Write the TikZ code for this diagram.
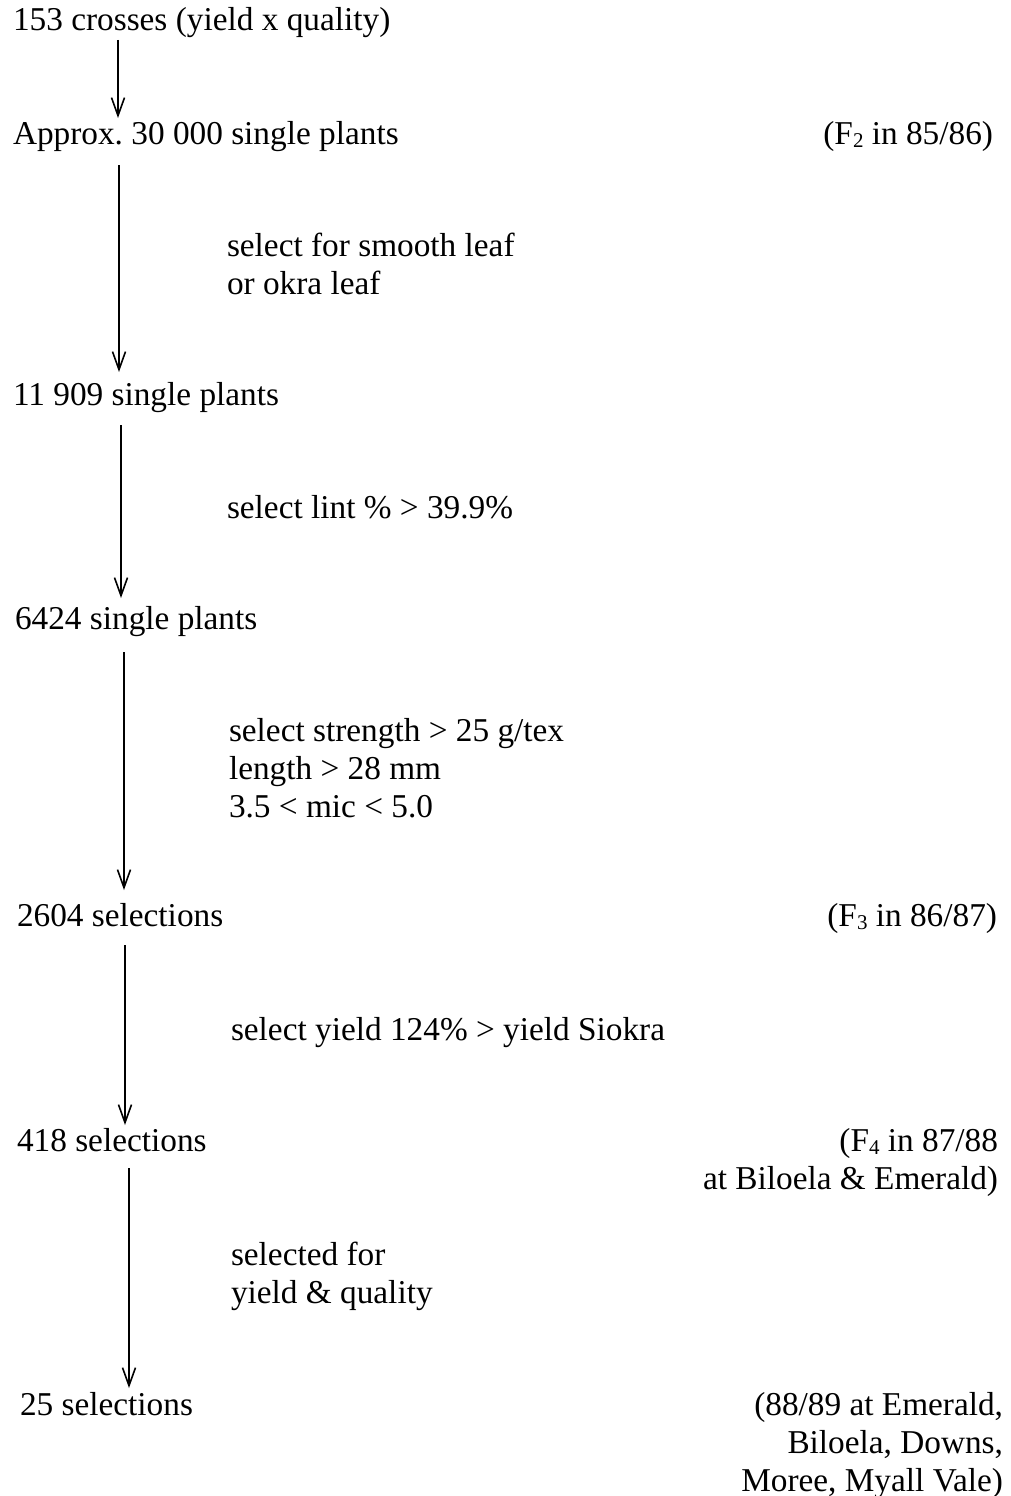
\documentclass[tikz,border=0pt]{standalone}
\usepackage{fontspec}
\setmainfont{Liberation Serif}
\frenchspacing
\usetikzlibrary{arrows.meta,calc}
\tikzset{
  lbl/.style={inner sep=0pt, outer sep=0pt, anchor=base west,
    font=\fontsize{33.3}{38}\selectfont},
  rlbl/.style={lbl, anchor=base east},
  arr/.style={line width=1.6pt, -{Straight Barb[length=18pt,width=13pt,line width=1.6pt]}},
}
\newcommand{\gsub}[1]{\raisebox{-0.25ex}{\fontsize{21}{21}\selectfont #1}}
\begin{document}
\begin{tikzpicture}[x=1pt,y=-1pt]
\useasboundingbox (0,0) rectangle (1011,1496);
% main column
\node[lbl] (n1) at (13,31) {153 crosses (yield x quality)};
\node[lbl] (n2) at (13,144) {Approx. 30 000 single plants};
\node[lbl] (n3) at (13,405) {11 909 single plants};
\node[lbl] (n4) at (15,629) {6424 single plants};
\node[lbl] (n5) at (17,926) {2604 selections};
\node[lbl] (n6) at (17,1151) {418 selections};
\node[lbl] (n7) at (20,1415) {25 selections};
% criteria
\node[lbl] (c2) at (227,256) {\begin{tabular}[t]{@{}l@{}}select for smooth leaf\\or okra leaf\end{tabular}};
\node[lbl] (c3) at (227,518) {select lint \% > 39.9\%};
\node[lbl] (c4) at (229,741) {\begin{tabular}[t]{@{}l@{}}select strength > 25 g/tex\\length > 28 mm\\3.5 < mic < 5.0\end{tabular}};
\node[lbl] (c5) at (231,1040) {select yield 124\% > yield Siokra};
\node[lbl] (c6) at (231,1265) {\begin{tabular}[t]{@{}l@{}}selected for\\yield \& quality\end{tabular}};
% generation notes
\node[rlbl] (g2) at (993,144) {(F\gsub{2} in 85/86)};
\node[rlbl] (g5) at (997,926) {(F\gsub{3} in 86/87)};
\node[rlbl] (g6) at (998,1151) {\begin{tabular}[t]{@{}r@{}}(F\gsub{4} in 87/88\\at Biloela \& Emerald)\end{tabular}};
\node[rlbl] (g7) at (1003,1415) {\begin{tabular}[t]{@{}r@{}}(88/89 at Emerald,\\Biloela, Downs,\\Moree, Myall Vale)\end{tabular}};
% arrows
\draw[arr] ($(n1.base west)+(105,9)$) -- ($(n2.base west)+(105,-26)$);
\draw[arr] ($(n2.base west)+(106,21)$) -- ($(n3.base west)+(106,-33)$);
\draw[arr] ($(n3.base west)+(108,20)$) -- ($(n4.base west)+(106,-31)$);
\draw[arr] ($(n4.base west)+(109,23)$) -- ($(n5.base west)+(107,-36)$);
\draw[arr] ($(n5.base west)+(108,19)$) -- ($(n6.base west)+(108,-26)$);
\draw[arr] ($(n6.base west)+(112,17)$) -- ($(n7.base west)+(109,-27)$);
\end{tikzpicture}
\end{document}
